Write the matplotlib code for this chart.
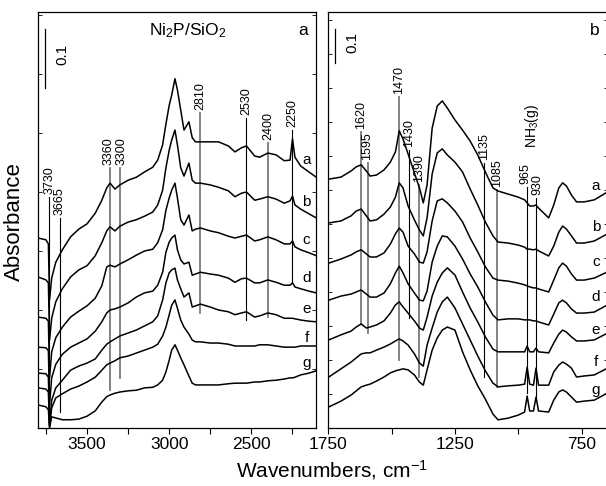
import numpy as np
import matplotlib
matplotlib.use("Agg")
from matplotlib import pyplot as plt
from matplotlib.ticker import FixedLocator, MultipleLocator

plt.rcParams['font.family'] = ['Liberation Sans', 'DejaVu Sans']
plt.rcParams['mathtext.fontset'] = 'custom'
plt.rcParams['mathtext.rm'] = 'Liberation Sans'
plt.rcParams['mathtext.default'] = 'regular'

# ---- high wavenumber region (panel a), cm-1 ----
wn_high = [3798, 3750, 3735, 3728, 3715, 3690, 3650, 3600, 3550, 3500,
           3450, 3410, 3380, 3360, 3330, 3300, 3250, 3200, 3150, 3100,
           3070, 3040, 3020, 3000, 2985, 2965, 2950, 2930, 2910, 2880,
           2860, 2840, 2810, 2750, 2700, 2640, 2600, 2560, 2530, 2480,
           2450, 2400, 2350, 2300, 2265, 2250, 2235, 2200, 2150, 2105]

a_high = [0.322, 0.319, 0.312, 0.217, 0.254, 0.281, 0.302, 0.324, 0.337, 0.346,
          0.364, 0.386, 0.407, 0.415, 0.405, 0.412, 0.420, 0.425, 0.434, 0.442,
          0.454, 0.480, 0.515, 0.547, 0.564, 0.592, 0.573, 0.539, 0.505, 0.519,
          0.492, 0.485, 0.485, 0.485, 0.485, 0.478, 0.468, 0.475, 0.478, 0.461,
          0.459, 0.466, 0.463, 0.453, 0.454, 0.490, 0.459, 0.444, 0.434, 0.425]
b_high = [0.256, 0.251, 0.246, 0.149, 0.186, 0.214, 0.236, 0.256, 0.268, 0.275,
          0.292, 0.314, 0.334, 0.341, 0.334, 0.342, 0.349, 0.353, 0.359, 0.366,
          0.378, 0.403, 0.441, 0.471, 0.488, 0.505, 0.480, 0.441, 0.427, 0.449,
          0.420, 0.415, 0.415, 0.412, 0.408, 0.402, 0.392, 0.398, 0.400, 0.386,
          0.388, 0.392, 0.388, 0.381, 0.385, 0.393, 0.378, 0.371, 0.363, 0.356]
c_high = [0.188, 0.186, 0.181, 0.085, 0.129, 0.153, 0.171, 0.188, 0.198, 0.207,
          0.220, 0.241, 0.273, 0.276, 0.273, 0.278, 0.285, 0.293, 0.300, 0.303,
          0.314, 0.336, 0.369, 0.390, 0.403, 0.415, 0.390, 0.353, 0.344, 0.361,
          0.334, 0.337, 0.339, 0.334, 0.331, 0.325, 0.322, 0.325, 0.327, 0.317,
          0.319, 0.324, 0.319, 0.312, 0.312, 0.317, 0.307, 0.302, 0.297, 0.292]
d_high = [0.137, 0.136, 0.131, 0.039, 0.085, 0.108, 0.125, 0.137, 0.144, 0.151,
          0.164, 0.180, 0.195, 0.200, 0.202, 0.205, 0.212, 0.222, 0.229, 0.232,
          0.242, 0.264, 0.298, 0.315, 0.322, 0.327, 0.302, 0.285, 0.278, 0.281,
          0.259, 0.261, 0.264, 0.261, 0.259, 0.254, 0.247, 0.253, 0.254, 0.246,
          0.246, 0.251, 0.247, 0.242, 0.242, 0.246, 0.239, 0.236, 0.232, 0.229]
e_high = [0.093, 0.092, 0.086, 0.005, 0.047, 0.068, 0.081, 0.098, 0.105, 0.110,
          0.117, 0.132, 0.142, 0.146, 0.151, 0.156, 0.161, 0.166, 0.173, 0.180,
          0.190, 0.217, 0.246, 0.263, 0.268, 0.271, 0.251, 0.236, 0.222, 0.229,
          0.205, 0.207, 0.210, 0.205, 0.200, 0.197, 0.192, 0.195, 0.197, 0.188,
          0.190, 0.195, 0.192, 0.186, 0.186, 0.186, 0.185, 0.183, 0.181, 0.180]
f_high = [0.068, 0.066, 0.061, 0.003, 0.034, 0.051, 0.058, 0.066, 0.071, 0.078,
          0.086, 0.098, 0.107, 0.110, 0.114, 0.119, 0.122, 0.127, 0.132, 0.137,
          0.142, 0.156, 0.171, 0.192, 0.208, 0.217, 0.203, 0.183, 0.171, 0.159,
          0.149, 0.146, 0.146, 0.144, 0.144, 0.142, 0.139, 0.139, 0.139, 0.139,
          0.141, 0.141, 0.139, 0.137, 0.137, 0.137, 0.137, 0.139, 0.139, 0.139]
g_high = [0.039, 0.036, 0.031, 0.000, 0.019, 0.017, 0.014, 0.014, 0.015, 0.020,
          0.029, 0.044, 0.053, 0.056, 0.059, 0.061, 0.063, 0.064, 0.068, 0.069,
          0.073, 0.081, 0.095, 0.115, 0.132, 0.141, 0.132, 0.119, 0.107, 0.088,
          0.076, 0.073, 0.073, 0.073, 0.073, 0.075, 0.076, 0.076, 0.076, 0.078,
          0.078, 0.080, 0.081, 0.083, 0.085, 0.085, 0.086, 0.090, 0.093, 0.097]

# ---- low wavenumber region (panel b), cm-1 ----
wn_low = [1748, 1700, 1660, 1640, 1620, 1600, 1585, 1560, 1530, 1505,
          1485, 1470, 1455, 1435, 1410, 1390, 1375, 1360, 1340, 1320,
          1300, 1280, 1250, 1220, 1190, 1160, 1130, 1100, 1080, 1040,
          1000, 975, 965, 955, 940, 930, 920, 880, 860, 840,
          825, 810, 790, 770, 740, 700, 648]

a_low = [0.732, 0.738, 0.756, 0.768, 0.774, 0.756, 0.741, 0.744, 0.759, 0.782,
         0.812, 0.874, 0.850, 0.806, 0.750, 0.706, 0.662, 0.715, 0.882, 0.947,
         0.962, 0.941, 0.906, 0.876, 0.844, 0.803, 0.753, 0.706, 0.697, 0.688,
         0.679, 0.671, 0.662, 0.653, 0.653, 0.656, 0.647, 0.618, 0.656, 0.706,
         0.721, 0.712, 0.685, 0.665, 0.665, 0.671, 0.694]
b_low = [0.603, 0.609, 0.624, 0.638, 0.644, 0.624, 0.609, 0.612, 0.629, 0.650,
         0.679, 0.721, 0.706, 0.653, 0.612, 0.582, 0.565, 0.618, 0.747, 0.809,
         0.821, 0.803, 0.782, 0.753, 0.703, 0.656, 0.606, 0.565, 0.547, 0.544,
         0.538, 0.532, 0.526, 0.526, 0.524, 0.526, 0.521, 0.506, 0.535, 0.576,
         0.594, 0.585, 0.565, 0.544, 0.544, 0.550, 0.571]
c_low = [0.485, 0.497, 0.509, 0.518, 0.524, 0.512, 0.503, 0.503, 0.515, 0.541,
         0.571, 0.588, 0.576, 0.535, 0.512, 0.488, 0.485, 0.518, 0.609, 0.668,
         0.674, 0.662, 0.638, 0.606, 0.559, 0.518, 0.474, 0.441, 0.435, 0.432,
         0.426, 0.421, 0.418, 0.415, 0.412, 0.412, 0.409, 0.400, 0.435, 0.471,
         0.485, 0.476, 0.453, 0.435, 0.435, 0.441, 0.459]
d_low = [0.376, 0.388, 0.394, 0.400, 0.406, 0.394, 0.385, 0.385, 0.397, 0.424,
         0.456, 0.476, 0.456, 0.424, 0.397, 0.376, 0.374, 0.403, 0.488, 0.535,
         0.565, 0.562, 0.535, 0.497, 0.453, 0.415, 0.371, 0.332, 0.318, 0.321,
         0.321, 0.318, 0.318, 0.318, 0.315, 0.315, 0.312, 0.303, 0.335, 0.368,
         0.376, 0.368, 0.350, 0.338, 0.338, 0.341, 0.362]
e_low = [0.259, 0.274, 0.285, 0.297, 0.306, 0.294, 0.297, 0.303, 0.315, 0.338,
         0.362, 0.371, 0.356, 0.338, 0.315, 0.294, 0.288, 0.326, 0.388, 0.429,
         0.456, 0.471, 0.450, 0.400, 0.353, 0.312, 0.268, 0.232, 0.224, 0.224,
         0.224, 0.224, 0.241, 0.224, 0.224, 0.235, 0.224, 0.221, 0.250, 0.276,
         0.288, 0.282, 0.268, 0.256, 0.256, 0.259, 0.279]
f_low = [0.150, 0.174, 0.194, 0.206, 0.218, 0.221, 0.221, 0.229, 0.238, 0.247,
         0.256, 0.262, 0.256, 0.244, 0.218, 0.191, 0.182, 0.244, 0.294, 0.341,
         0.371, 0.385, 0.353, 0.306, 0.259, 0.212, 0.168, 0.132, 0.121, 0.124,
         0.126, 0.129, 0.179, 0.129, 0.126, 0.176, 0.126, 0.126, 0.165, 0.185,
         0.194, 0.188, 0.176, 0.150, 0.153, 0.156, 0.176]
g_low = [0.062, 0.079, 0.097, 0.109, 0.121, 0.126, 0.129, 0.138, 0.150, 0.162,
         0.168, 0.171, 0.174, 0.171, 0.156, 0.135, 0.126, 0.171, 0.229, 0.265,
         0.288, 0.297, 0.288, 0.224, 0.171, 0.124, 0.085, 0.041, 0.024, 0.029,
         0.038, 0.047, 0.094, 0.050, 0.050, 0.091, 0.050, 0.047, 0.082, 0.106,
         0.112, 0.106, 0.091, 0.076, 0.079, 0.082, 0.103]

curve_names = ['a', 'b', 'c', 'd', 'e', 'f', 'g']
spectra_high = [a_high, b_high, c_high, d_high, e_high, f_high, g_high]
spectra_low = [a_low, b_low, c_low, d_low, e_low, f_low, g_low]

# band markers: position, line top, line bottom, grey or black
bands_high = [3730, 3665, 3360, 3300, 2810, 2530, 2400, 2250]
tops_high = [0.392, 0.356, 0.441, 0.441, 0.534, 0.525, 0.483, 0.505]
bottoms_high = [0.0, 0.027, 0.064, 0.085, 0.195, 0.183, 0.188, 0.246]
grey_high = [False, False, True, True, True, False, True, False]
nudge_high = [0, 0, -1.0, 1.0, 0, 0, 0, 0]

bands_low = [1620, 1595, 1470, 1430, 1390, 1135, 1085, 965, 930]
tops_low = [0.871, 0.779, 0.974, 0.818, 0.715, 0.779, 0.700, 0.709, 0.676]
bottoms_low = [0.309, 0.279, 0.200, 0.324, 0.150, 0.150, 0.121, 0.103, 0.082]
grey_low = [True, True, True, False, True, False, True, False, False]
nudge_low = [0, 0, 0, 0, 0, 0, 0, -1.0, 1.0]

# letter positions next to each trace
letter_y_high = [0.454, 0.383, 0.319, 0.254, 0.202, 0.153, 0.110]
letter_y_low = [0.712, 0.591, 0.488, 0.385, 0.288, 0.194, 0.112]

W, H = 606, 486
fig = plt.figure(figsize=(W / 100, H / 100), dpi=100)
ax1 = fig.add_axes([37.7 / W, 58 / H, 278.3 / W, 416 / H])
ax2 = fig.add_axes([328.3 / W, 58 / H, 279.5 / W, 416 / H])


def style_axis(ax, xlim, ylim, major, minor):
    ax.set_xlim(*xlim)
    ax.set_ylim(*ylim)
    ax.xaxis.set_major_locator(FixedLocator(major))
    ax.xaxis.set_minor_locator(FixedLocator(minor))
    ax.yaxis.set_major_locator(MultipleLocator(0.1))
    ax.tick_params(axis='x', which='both', direction='out', length=4.5,
                   width=0.8, labelsize=12.5, pad=2)
    ax.tick_params(axis='y', which='both', direction='in', length=3,
                   width=0.6, left=True, right=True, labelleft=False)
    for sp in ax.spines.values():
        sp.set_linewidth(0.9)


def draw_panel(ax, wn, spectra, bands, tops, bottoms, grey, nudge,
               letter_x, letter_y):
    for s in spectra:
        ax.plot(wn, s, color='black', lw=1.1)
    for b, t, bt, gr, dx in zip(bands, tops, bottoms, grey, nudge):
        if gr:
            ax.plot([b, b], [bt, t], color='#7a7a7a', lw=1.3, zorder=1)
        else:
            ax.plot([b, b], [bt, t], color='black', lw=0.8, zorder=1)
        ax.annotate(str(b), (b, t), xytext=(dx, 2), textcoords='offset points',
                    rotation=90, ha='center', va='bottom', fontsize=9)
    for name, y in zip(curve_names, letter_y):
        ax.text(letter_x, y, name, ha='center', va='center', fontsize=11)


style_axis(ax1, (3800, 2107), (0, 416 / 590), [3500, 3000, 2500],
           [3750, 3250, 2750, 2250])
style_axis(ax2, (1750, 1750 - 279.5 / 0.2533), (0, 416 / 340),
           [1750, 1250, 750], [1500, 1000])

draw_panel(ax1, wn_high, spectra_high, bands_high, tops_high, bottoms_high,
           grey_high, nudge_high, 2164, letter_y_high)
draw_panel(ax2, wn_low, spectra_low, bands_low, tops_low, bottoms_low,
           grey_low, nudge_low, 693, letter_y_low)

# scale bars
ax1.plot([3756, 3756], [0.576, 0.676], color='black', lw=0.9)
ax1.text(3652, 0.634, '0.1', rotation=90, ha='center', va='center', fontsize=11)
ax2.plot([1724, 1724], [1.074, 1.174], color='black', lw=0.9)
ax2.text(1653, 1.135, '0.1', rotation=90, ha='center', va='center', fontsize=11)

ax2.text(945, 0.824, 'NH$_3$(g)', rotation=90, ha='center', va='bottom',
         fontsize=10)

ax1.text(0.54, 0.955, 'Ni$_2$P/SiO$_2$', transform=ax1.transAxes,
         ha='center', va='center', fontsize=12.5)
ax1.text(0.953, 0.955, 'a', transform=ax1.transAxes, ha='center',
         va='center', fontsize=12.5)
ax2.text(0.953, 0.955, 'b', transform=ax2.transAxes, ha='center',
         va='center', fontsize=12.5)

fig.text(14 / W, (H - 222) / H, 'Absorbance', rotation=90, ha='center',
         va='center', fontsize=16)
fig.text(332 / W, 16 / H, 'Wavenumbers, cm$^{-1}$', ha='center',
         va='center', fontsize=15)

fig.savefig('out.png', dpi=100)
